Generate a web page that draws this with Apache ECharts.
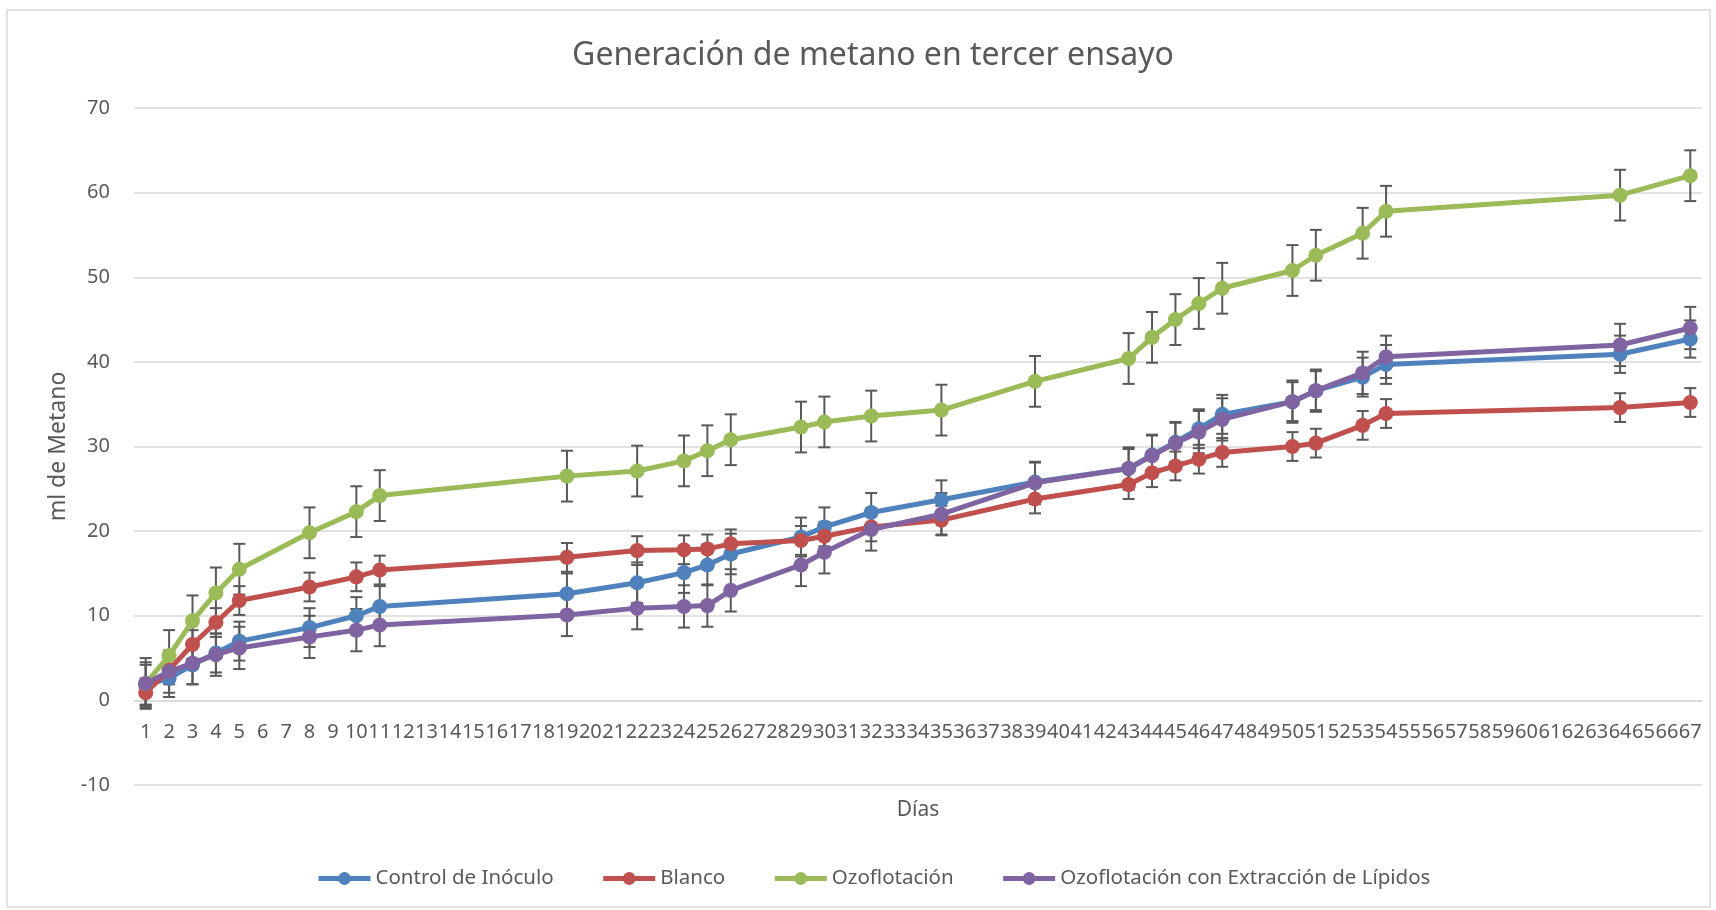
<!DOCTYPE html>
<html>
<head>
<meta charset="utf-8">
<script src="https://cdn.jsdelivr.net/npm/echarts@6/dist/echarts.min.js"></script>
<style>
html,body{margin:0;padding:0;background:#fff;}
#main{width:1716px;height:910px;}
</style>
</head>
<body>
<div id="main"></div>
<script>
// Category labels (days 1..67)
const dayLabels = ['1','2','3','4','5','6','7','8','9','10','11','12','13','14','15','16','17','18','19','20','21','22','23','24','25','26','27','28','29','30','31','32','33','34','35','36','37','38','39','40','41','42','43','44','45','46','47','48','49','50','51','52','53','54','55','56','57','58','59','60','61','62','63','64','65','66','67'];
// Days with measurements
const sampleDays = ['1','2','3','4','5','8','10','11','19','22','24','25','26','29','30','32','35','39','43','44','45','46','47','50','51','53','54','64','67'];

const controlInoculo = [1.8, 2.6, 4.2, 5.6, 7.0, 8.6, 10.0, 11.1, 12.6, 13.9, 15.1, 16.0, 17.3, 19.3, 20.5, 22.2, 23.7, 25.8, 27.4, 29.0, 30.5, 32.1, 33.8, 35.3, 36.6, 38.2, 39.7, 40.9, 42.7];
const blanco = [0.9, 3.6, 6.6, 9.2, 11.8, 13.4, 14.6, 15.4, 16.9, 17.7, 17.8, 17.9, 18.5, 18.9, 19.4, 20.5, 21.3, 23.8, 25.5, 26.9, 27.7, 28.5, 29.3, 30.0, 30.4, 32.5, 33.9, 34.6, 35.2];
const ozoflotacion = [2.0, 5.3, 9.4, 12.7, 15.5, 19.8, 22.3, 24.2, 26.5, 27.1, 28.3, 29.5, 30.8, 32.3, 32.9, 33.6, 34.3, 37.7, 40.4, 42.9, 45.0, 46.9, 48.7, 50.8, 52.6, 55.2, 57.8, 59.7, 62.0];
const ozoLipidos = [2.0, 3.4, 4.4, 5.4, 6.2, 7.5, 8.3, 8.9, 10.1, 10.9, 11.1, 11.2, 13.0, 16.0, 17.5, 20.2, 22.0, 25.7, 27.4, 28.9, 30.4, 31.7, 33.2, 35.3, 36.6, 38.7, 40.6, 42.0, 44.0];

// Error bar half-widths (standard deviation) per series
const errControl = [2.4, 2.2, 2.3, 2.3, 2.3, 2.3, 2.2, 2.4, 2.4, 2.4, 2.4, 2.4, 2.4, 2.3, 2.3, 2.3, 2.3, 2.3, 2.3, 2.3, 2.3, 2.3, 2.3, 2.3, 2.3, 2.3, 2.3, 2.2, 2.2];
const errBlanco = [1.7, 1.7, 1.7, 1.7, 1.7, 1.7, 1.7, 1.7, 1.7, 1.7, 1.7, 1.7, 1.7, 1.7, 1.7, 1.7, 1.7, 1.7, 1.7, 1.7, 1.7, 1.7, 1.7, 1.7, 1.7, 1.7, 1.7, 1.7, 1.7];
const errOzo = [3.0, 3.0, 3.0, 3.0, 3.0, 3.0, 3.0, 3.0, 3.0, 3.0, 3.0, 3.0, 3.0, 3.0, 3.0, 3.0, 3.0, 3.0, 3.0, 3.0, 3.0, 3.0, 3.0, 3.0, 3.0, 3.0, 3.0, 3.0, 3.0];
const errLipidos = [2.5, 2.5, 2.5, 2.5, 2.5, 2.5, 2.5, 2.5, 2.5, 2.5, 2.5, 2.5, 2.5, 2.5, 2.5, 2.5, 2.5, 2.5, 2.5, 2.5, 2.5, 2.5, 2.5, 2.5, 2.5, 2.5, 2.5, 2.5, 2.5];

const seriesNames = ['Control de Inóculo', 'Blanco', 'Ozoflotación', 'Ozoflotación con Extracción de Lípidos'];
const seriesColors = ['#4F81BD', '#C0504D', '#9BBB59', '#8064A2'];
const seriesValues = [controlInoculo, blanco, ozoflotacion, ozoLipidos];
const seriesErrors = [errControl, errBlanco, errOzo, errLipidos];

const yTicks = [-10, 0, 10, 20, 30, 40, 50, 60, 70];

const chart = echarts.init(document.getElementById('main'), null, {renderer: 'canvas'});

const textColor = '#595959';
const fontFam = '"Noto Sans", "Open Sans", sans-serif';

function errorRender(params, api) {
  const x = api.value(0);
  const lo = api.coord([x, api.value(1)]);
  const hi = api.coord([x, api.value(2)]);
  const cw = 6;
  const style = {stroke: '#595959', lineWidth: 2, fill: null};
  return {
    type: 'group',
    children: [
      {type: 'line', shape: {x1: lo[0], y1: lo[1], x2: hi[0], y2: hi[1]}, style: style},
      {type: 'line', shape: {x1: lo[0] - cw, y1: lo[1], x2: lo[0] + cw, y2: lo[1]}, style: style},
      {type: 'line', shape: {x1: hi[0] - cw, y1: hi[1], x2: hi[0] + cw, y2: hi[1]}, style: style}
    ]
  };
}

const series = [];
seriesNames.forEach(function (name, i) {
  series.push({
    name: name + '_err',
    type: 'custom',
    renderItem: errorRender,
    data: sampleDays.map(function (d, k) {
      return [dayLabels.indexOf(d), seriesValues[i][k] - seriesErrors[i][k], seriesValues[i][k] + seriesErrors[i][k]];
    }),
    encode: {x: 0, y: [1, 2]},
    z: 1,
    silent: true,
    animation: false
  });
});
seriesNames.forEach(function (name, i) {
  series.push({
    name: name,
    type: 'line',
    data: sampleDays.map(function (d, k) { return [d, seriesValues[i][k]]; }),
    symbol: 'circle',
    symbolSize: 15,
    lineStyle: {width: 5, color: seriesColors[i]},
    itemStyle: {color: seriesColors[i]},
    z: 3 + i,
    animation: false
  });
});

// distance in px from the -10 baseline to the 0 line (plot height / 8 ticks)
const plotTop = 108, plotBottom = 125;
const zeroOffset = (910 - plotTop - plotBottom) / (yTicks.length - 1);

const option = {
  backgroundColor: '#ffffff',
  animation: false,
  title: {
    text: 'Generación de metano en tercer ensayo',
    left: 868,
    textAlign: 'center',
    top: 35,
    textStyle: {fontFamily: fontFam, fontSize: 32, fontWeight: 'normal', color: textColor}
  },
  legend: {
    data: seriesNames,
    bottom: 16,
    left: 311,
    itemWidth: 52,
    itemHeight: 16,
    itemGap: 47,
    lineStyle: {width: 5},
    textStyle: {fontFamily: fontFam, fontSize: 20.5, color: textColor}
  },
  grid: {left: 134, right: 14, top: plotTop, bottom: plotBottom, containLabel: false},
  xAxis: {
    type: 'category',
    data: dayLabels,
    boundaryGap: true,
    offset: -zeroOffset,
    name: 'Días',
    nameLocation: 'middle',
    nameGap: 99,
    nameTextStyle: {fontFamily: fontFam, fontSize: 21, color: textColor},
    axisLine: {onZero: false, lineStyle: {color: '#d9d9d9', width: 1.5}},
    axisTick: {show: false},
    axisLabel: {interval: 0, fontFamily: fontFam, fontSize: 20, color: textColor, margin: 22, hideOverlap: false},
    splitLine: {show: false}
  },
  yAxis: {
    type: 'value',
    min: yTicks[0],
    max: yTicks[yTicks.length - 1],
    interval: 10,
    name: 'ml de Metano',
    nameLocation: 'middle',
    nameGap: 63,
    nameTextStyle: {fontFamily: fontFam, fontSize: 23, color: textColor},
    axisLine: {show: false},
    axisTick: {show: false},
    axisLabel: {fontFamily: fontFam, fontSize: 20, color: textColor, margin: 24},
    splitLine: {lineStyle: {color: '#d9d9d9', width: 1.5}}
  },
  graphic: [{
    type: 'rect',
    shape: {x: 7, y: 10, width: 1703, height: 897},
    style: {fill: null, stroke: '#d9d9d9', lineWidth: 1.5},
    silent: true,
    z: -10
  }],
  series: series
};

chart.setOption(option);
</script>
</body>
</html>
